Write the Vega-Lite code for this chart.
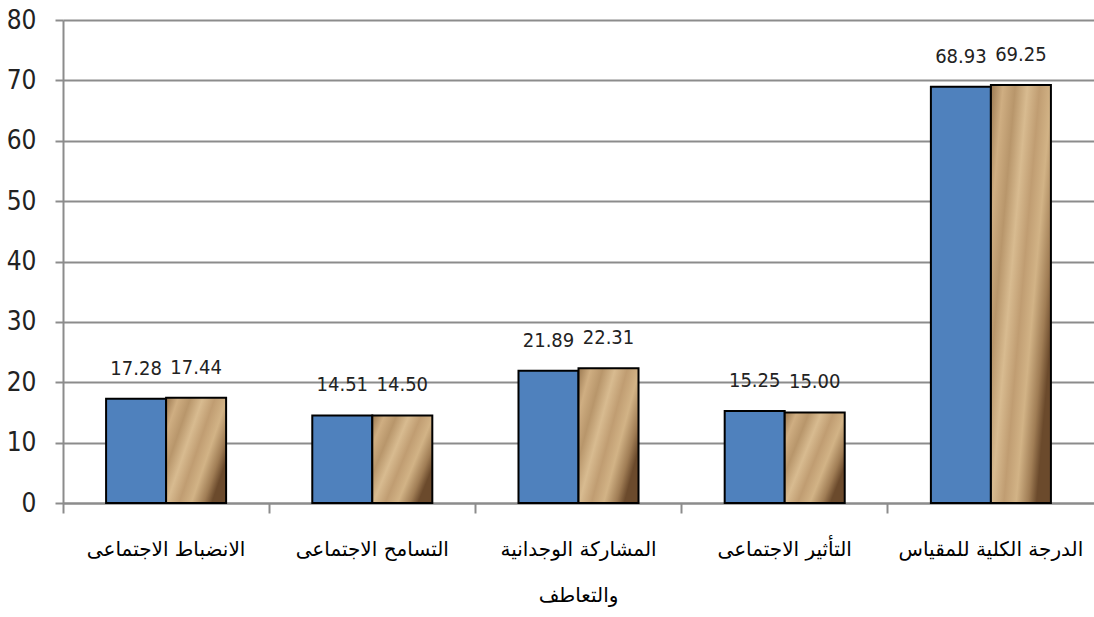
{
  "$schema": "https://vega.github.io/schema/vega-lite/v6.json",
  "width": 1031,
  "height": 483,
  "autosize": "none",
  "padding": {"left": 63, "top": 20, "right": 0, "bottom": 114},
  "background": "white",
  "config": {"view": {"stroke": null}},
  "data": {
    "values": [
      {"category": "الانضباط الاجتماعى", "series": "a", "value": 17.28},
      {"category": "الانضباط الاجتماعى", "series": "b", "value": 17.44},
      {"category": "التسامح الاجتماعى", "series": "a", "value": 14.51},
      {"category": "التسامح الاجتماعى", "series": "b", "value": 14.50},
      {"category": "المشاركة الوجدانية والتعاطف", "series": "a", "value": 21.89},
      {"category": "المشاركة الوجدانية والتعاطف", "series": "b", "value": 22.31},
      {"category": "التأثير الاجتماعى", "series": "a", "value": 15.25},
      {"category": "التأثير الاجتماعى", "series": "b", "value": 15.00},
      {"category": "الدرجة الكلية للمقياس", "series": "a", "value": 68.93},
      {"category": "الدرجة الكلية للمقياس", "series": "b", "value": 69.25}
    ]
  },
  "encoding": {
    "x": {
      "field": "category",
      "type": "nominal",
      "sort": ["الانضباط الاجتماعى", "التسامح الاجتماعى", "المشاركة الوجدانية والتعاطف", "التأثير الاجتماعى", "الدرجة الكلية للمقياس"],
      "scale": {"paddingInner": 0, "paddingOuter": 0},
      "axis": {
        "title": null,
        "labelAngle": 0,
        "bandPosition": 0,
        "domainColor": "#8c8c8c",
        "domainWidth": 2,
        "tickColor": "#8c8c8c",
        "tickWidth": 2,
        "tickSize": 10,
        "labelFont": "DejaVu Sans",
        "labelFontSize": 20,
        "labelColor": "#000000",
        "labelPadding": 26,
        "labelLimit": 0,
        "labelLineHeight": 46,
        "labelExpr": "datum.label == 'المشاركة الوجدانية والتعاطف' ? ['المشاركة الوجدانية', 'والتعاطف'] : datum.label"
      }
    },
    "xOffset": {
      "field": "series",
      "type": "nominal",
      "scale": {"paddingInner": 0, "paddingOuter": 0.718}
    },
    "y": {
      "field": "value",
      "type": "quantitative",
      "scale": {"domain": [0, 80], "nice": false},
      "axis": {
        "title": null,
        "values": [0, 10, 20, 30, 40, 50, 60, 70, 80],
        "grid": true,
        "gridColor": "#8c8c8c",
        "gridWidth": 2,
        "domainColor": "#8c8c8c",
        "domainWidth": 2,
        "tickColor": "#8c8c8c",
        "tickWidth": 2,
        "tickSize": 8,
        "labelFont": "DejaVu Sans Condensed, Liberation Sans, sans-serif",
        "labelFontSize": 26,
        "labelColor": "#222222",
        "labelPadding": 19
      }
    }
  },
  "layer": [
    {
      "transform": [{"filter": "datum.series == 'a'"}],
      "mark": {"type": "bar", "fill": "#4F81BD", "stroke": "#000000", "strokeWidth": 2}
    },
    {
      "transform": [{"filter": "datum.series == 'b'"}],
      "mark": {
        "type": "bar",
        "stroke": "#000000",
        "strokeWidth": 2,
        "fill": {
          "gradient": "linear",
          "x1": 0, "y1": 0, "x2": 1, "y2": 0.6,
          "stops": [
            {"offset": 0, "color": "#9a7850"},
            {"offset": 0.15, "color": "#cfae82"},
            {"offset": 0.3, "color": "#b8966b"},
            {"offset": 0.45, "color": "#d8bb90"},
            {"offset": 0.6, "color": "#c09d72"},
            {"offset": 0.75, "color": "#d2b386"},
            {"offset": 0.9, "color": "#a07d55"},
            {"offset": 1, "color": "#6b4a2c"}
          ]
        }
      }
    },
    {
      "mark": {
        "type": "text",
        "baseline": "alphabetic",
        "dy": -24,
        "font": "DejaVu Sans Condensed, Liberation Sans, sans-serif",
        "fontSize": 20,
        "fill": "#222222"
      },
      "encoding": {
        "text": {"field": "value", "type": "quantitative", "format": ".2f"}
      }
    }
  ]
}
